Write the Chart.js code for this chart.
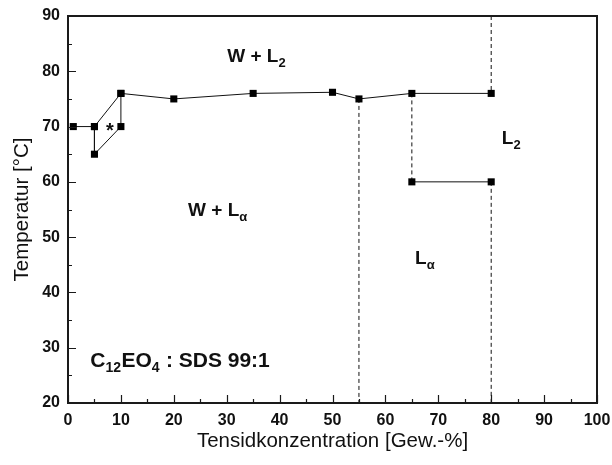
<!DOCTYPE html>
<html>
<head>
<meta charset="utf-8">
<script src="https://cdn.jsdelivr.net/npm/chart.js@4.4.1/dist/chart.umd.min.js"></script>
<style>
  html, body { margin: 0; padding: 0; background: #fff; }
  #wrap { width: 612px; height: 465px; }
</style>
</head>
<body>
<div id="wrap"><canvas id="c" width="612" height="465"></canvas></div>
<script>
// Phase diagram C12EO4 : SDS 99:1 in water

// Low-concentration loop around the asterisk (traced as one closed path)
const loopConc = [1, 5, 5, 10, 10, 5];
const loopTemp = [70, 70, 65, 70, 76, 70];

// Upper boundary W + Lalpha / W + L2
const upperConc = [10, 20, 35, 50, 55, 65, 80];
const upperTemp = [76, 75, 76, 76.2, 75, 76, 76];

// Lower boundary L_alpha / L2
const lowerConc = [65, 80];
const lowerTemp = [60, 60];

// Dashed vertical phase borders
const dashConc = [55, 65, 80, 80];
const dashFrom = [75, 76, 90, 60];
const dashTo   = [20, 60, 76, 20];

// Axis ticks
const xTickValues = [0, 10, 20, 30, 40, 50, 60, 70, 80, 90, 100];
const yTickValues = [20, 30, 40, 50, 60, 70, 80, 90];

// Region labels: text runs [string, isSubscript]
const regionText = [
  [['W + L', 0], ['2', 1]],
  [['W + L', 0], ['\u03B1', 1]],
  [['L', 0], ['2', 1]],
  [['L', 0], ['\u03B1', 1]],
  [['C', 0], ['12', 1], ['EO', 0], ['4', 1], [' : SDS 99:1', 0]],
  [['*', 0]]
];
const regionConc = [30.1, 22.7, 82.0, 65.6, 4.2, 7.2];
const regionTemp = [82.6, 54.7, 67.8, 46.1, 27.5, 69.2];

const toPts = (xs, ys) => xs.map((v, i) => ({ x: v, y: ys[i] }));

const solid = (xs, ys) => ({
  data: toPts(xs, ys),
  showLine: true,
  borderColor: '#111',
  backgroundColor: '#000',
  borderWidth: 1,
  pointStyle: 'rect',
  pointRadius: 5,
  pointHoverRadius: 5,
  pointBorderWidth: 0,
  tension: 0
});

const datasets = [
  solid(loopConc, loopTemp),
  solid(upperConc, upperTemp),
  solid(lowerConc, lowerTemp)
];
dashConc.forEach((c, i) => {
  datasets.push({
    data: [{ x: c, y: dashFrom[i] }, { x: c, y: dashTo[i] }],
    showLine: true,
    borderColor: '#111',
    borderWidth: 1,
    borderDash: [4, 3],
    pointRadius: 0,
    pointHoverRadius: 0
  });
});

const FONT = '"Liberation Sans", Arial, Helvetica, sans-serif';
// font sizes (main, subscript) for each region label
const labelSizes = [[19, 13], [19, 13], [19, 13], [19, 13], [21, 14], [20, 20]];

const overlay = {
  id: 'overlay',
  afterDraw(chart) {
    const { ctx, chartArea: a, scales: { x, y } } = chart;
    const L = Math.round(a.left), R = Math.round(a.right);
    const T = Math.round(a.top), B = Math.round(a.bottom);
    ctx.save();
    ctx.setLineDash([]);
    ctx.strokeStyle = '#1a1a1a';
    ctx.fillStyle = '#1a1a1a';

    // plot frame, drawn as filled 2px bars
    ctx.fillRect(L - 1, T - 1, R - L + 2, 2);
    ctx.fillRect(L - 1, B - 1, R - L + 2, 2);
    ctx.fillRect(L - 1, T - 1, 2, B - T + 2);
    ctx.fillRect(R - 1, T - 1, 2, B - T + 2);

    // inward tick marks, major every 10, minor every 5
    ctx.lineWidth = 1.2;
    ctx.beginPath();
    for (let v = 0; v <= 100; v += 5) {
      const px = Math.round(x.getPixelForValue(v)) + 0.5;
      const len = v % 10 === 0 ? 8 : 4;
      ctx.moveTo(px, B);
      ctx.lineTo(px, B - len);
    }
    for (let v = 20; v <= 90; v += 5) {
      const py = Math.round(y.getPixelForValue(v)) + 0.5;
      const len = v % 10 === 0 ? 8 : 4;
      ctx.moveTo(L, py);
      ctx.lineTo(L + len, py);
    }
    ctx.stroke();

    // region labels
    ctx.fillStyle = '#111';
    ctx.textBaseline = 'middle';
    ctx.textAlign = 'left';
    regionText.forEach((runs, i) => {
      let px = x.getPixelForValue(regionConc[i]);
      const py = y.getPixelForValue(regionTemp[i]);
      const [main, small] = labelSizes[i];
      runs.forEach(([s, sub]) => {
        ctx.font = 'bold ' + (sub ? small : main) + 'px ' + FONT;
        ctx.fillText(s, px, sub ? py + main * 0.33 : py);
        px += ctx.measureText(s).width + (sub ? 0.5 : 0);
      });
    });
    ctx.restore();
  }
};

new Chart(document.getElementById('c'), {
  type: 'scatter',
  data: { datasets },
  options: {
    responsive: false,
    animation: false,
    devicePixelRatio: 1,
    layout: { padding: { top: 16, right: 15, left: 0, bottom: 0 } },
    plugins: { legend: { display: false }, tooltip: { enabled: false } },
    scales: {
      x: {
        type: 'linear',
        min: 0, max: 100,
        afterBuildTicks: s => { s.ticks = xTickValues.map(v => ({ value: v })); },
        afterFit: s => { s.height = 62; s.paddingLeft = 0; s.paddingRight = 0; },
        grid: { display: false, drawTicks: false },
        border: { display: true, color: '#1a1a1a', width: 1.5 },
        ticks: {
          padding: 8,
          color: '#111',
          font: { family: FONT, size: 16, weight: 'bold' },
          maxRotation: 0
        },
        title: {
          display: true,
          text: 'Tensidkonzentration [Gew.-%]',
          color: '#111',
          font: { family: FONT, size: 20.5 },
          padding: { top: 0, bottom: 11 }
        }
      },
      y: {
        type: 'linear',
        min: 20, max: 90,
        afterBuildTicks: s => { s.ticks = yTickValues.map(v => ({ value: v })); },
        afterFit: s => { s.width = 68; s.paddingTop = 0; s.paddingBottom = 0; },
        grid: { display: false, drawTicks: false },
        border: { display: true, color: '#1a1a1a', width: 1.5 },
        ticks: {
          padding: 8,
          color: '#111',
          font: { family: FONT, size: 16, weight: 'bold' }
        },
        title: {
          display: true,
          text: 'Temperatur [\u00B0C]',
          color: '#111',
          font: { family: FONT, size: 20.5 },
          padding: { top: 10, bottom: 0 }
        }
      }
    }
  },
  plugins: [overlay]
});
</script>
</body>
</html>
